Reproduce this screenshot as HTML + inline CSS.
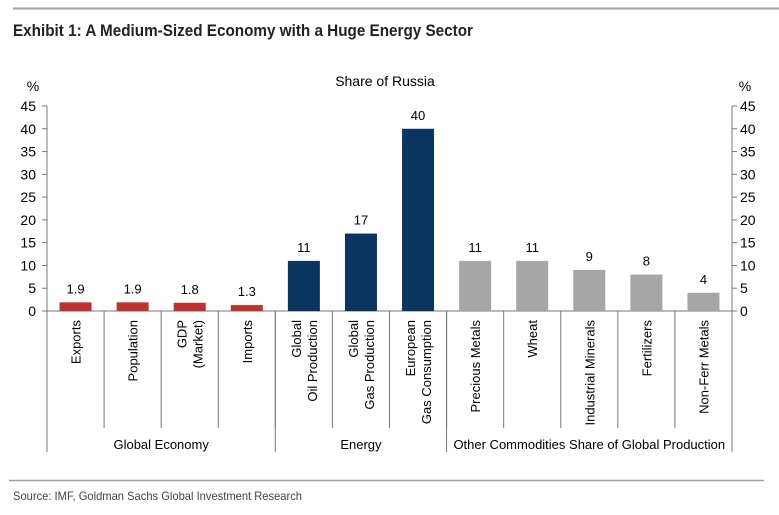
<!DOCTYPE html>
<html><head><meta charset="utf-8"><style>
body{margin:0;background:#fff;width:779px;height:515px;overflow:hidden;font-family:"Liberation Sans",sans-serif}
svg{display:block}
</style></head><body>
<svg id="chart" width="779" height="515" xmlns="http://www.w3.org/2000/svg">
<line x1="13" y1="8.5" x2="779" y2="8.5" stroke="#a0a0a0" stroke-width="2"/>
<text x="13" y="36" font-weight="bold" font-size="17" fill="#222" textLength="460" lengthAdjust="spacingAndGlyphs">Exhibit 1: A Medium-Sized Economy with a Huge Energy Sector</text>
<text x="385" y="86" text-anchor="middle" font-size="14" fill="#000">Share of Russia</text>
<text x="33" y="91" text-anchor="middle" font-size="14">%</text>
<text x="745" y="91" text-anchor="middle" font-size="14">%</text>
<line x1="9" y1="480.5" x2="764" y2="480.5" stroke="#a0a0a0" stroke-width="1.5"/>
<text x="13" y="500" font-size="12" fill="#444" textLength="289" lengthAdjust="spacingAndGlyphs">Source: IMF, Goldman Sachs Global Investment Research</text>
<g id="plot"></g>
</svg>
<script>
const categories=[["Exports"],["Population"],["GDP","(Market)"],["Imports"],["Global","Oil Production"],["Global","Gas Production"],["European","Gas Consumption"],["Precious Metals"],["Wheat"],["Industrial Minerals"],["Fertilizers"],["Non-Ferr Metals"]];
const values=[1.9,1.9,1.8,1.3,11,17,40,11,11,9,8,4];
const valueLabels=["1.9","1.9","1.8","1.3","11","17","40","11","11","9","8","4"];
const groupNames=["Global Economy","Energy","Other Commodities Share of Global Production"];
const groupSizes=[4,3,5];
const groupColors=["#c0302f","#0b3561","#a6a6a6"];
const yTicks=[0,5,10,15,20,25,30,35,40,45];

const NS="http://www.w3.org/2000/svg";
const g=document.getElementById("plot");
const L=47,R=732,Y0=311,Ytop=106,ymax=45;
const n=categories.length,cw=(R-L)/n,bw=32;
const y=v=>Y0-(v/ymax)*(Y0-Ytop);
const x=i=>L+cw*i+cw/2;
function el(t,a){const e=document.createElementNS(NS,t);for(const k in a)e.setAttribute(k,a[k]);g.appendChild(e);return e;}

let e;
e=el("line",{x1:L,y1:Ytop,x2:L,y2:452,stroke:"#777","stroke-width":1});


e=el("line",{x1:R,y1:Ytop,x2:R,y2:452,stroke:"#777","stroke-width":1});


e=el("line",{x1:L,y1:Y0,x2:R,y2:Y0,stroke:"#777","stroke-width":1});



yTicks.forEach(t=>{
  const yy=y(t);
  e=el("line",{x1:L-5,y1:yy,x2:L,y2:yy,stroke:"#777"});
  
  
  e=el("line",{x1:R,y1:yy,x2:R+5,y2:yy,stroke:"#777"});
  
  
  e=el("text",{x:36,y:yy+5,"text-anchor":"end","font-size":14});e.textContent=t;
  
  
  e=el("text",{x:740,y:yy+5,"text-anchor":"start","font-size":14});e.textContent=t;
  
  
});

const colorOf=[];
groupSizes.forEach((s,k)=>{for(let j=0;j<s;j++)colorOf.push(groupColors[k]);});

values.forEach((v,i)=>{
  e=el("rect",{x:x(i)-bw/2,y:y(v),width:bw,height:Y0-y(v),fill:colorOf[i]});
  
  
  e=el("text",{x:x(i),y:y(v)-9,"text-anchor":"middle","font-size":13});e.textContent=valueLabels[i];
  
  
  const lines=categories[i];
  lines.forEach((ln,j)=>{
    const off=(j-(lines.length-1)/2)*16+5;
    const tx=x(i)+off,ty=320;
    e=el("text",{x:tx,y:ty,"text-anchor":"end","font-size":13,transform:`rotate(-90 ${tx} ${ty})`});e.textContent=ln;
    
    
  });
  if(i>0){
    e=el("line",{x1:L+cw*i,y1:Y0,x2:L+cw*i,y2:428,stroke:"#777"});
    
    
  }
});

let acc=0;
groupSizes.forEach((s,k)=>{
  const x1=L+cw*acc,x2=L+cw*(acc+s);
  if(acc>0){
    e=el("line",{x1:x1,y1:Y0,x2:x1,y2:452,stroke:"#777"});
    
    
  }
  e=el("text",{x:(x1+x2)/2,y:449,"text-anchor":"middle","font-size":13});e.textContent=groupNames[k];
  
  
  acc+=s;
});
</script>
</body></html>
